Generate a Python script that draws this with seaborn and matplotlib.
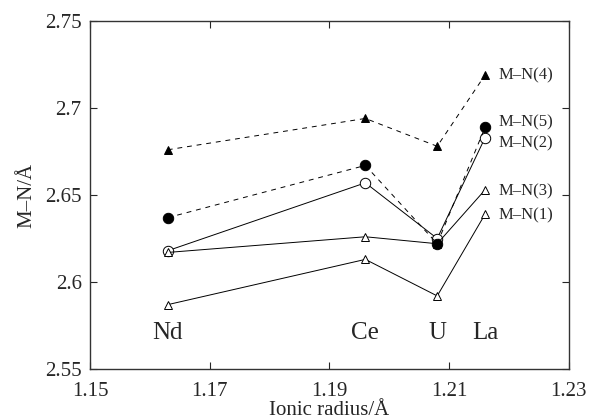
import numpy as np
import pandas as pd
import seaborn as sns
import matplotlib
matplotlib.use("Agg")
import matplotlib.pyplot as plt

# ionic radius of each metal and the bond lengths
elements = ["Nd", "Ce", "U", "La"]
radius = [1.163, 1.196, 1.208, 1.216]

mn1 = [2.587, 2.613, 2.592, 2.639]
mn2 = [2.618, 2.657, 2.625, 2.683]
mn3 = [2.617, 2.626, 2.622, 2.653]
mn4 = [2.676, 2.694, 2.678, 2.719]
mn5 = [2.637, 2.667, 2.622, 2.689]

series_names = ["M–N(1)", "M–N(2)", "M–N(3)", "M–N(4)", "M–N(5)"]
series_vals = [mn1, mn2, mn3, mn4, mn5]
label_y = [2.638, 2.6795, 2.652, 2.719, 2.6915]   # where the right-hand labels sit

sns.set_style("ticks")
plt.rcParams["font.family"] = ["Liberation Serif", "DejaVu Serif"]
plt.rcParams["mathtext.fontset"] = "stix"

fig = plt.figure(figsize=(5.92, 4.2), dpi=100)
ax = fig.add_axes([0.152, 0.1214, 0.809, 0.8286])

# marker style for each series: open triangle, open circle, filled triangle, filled circle
looks = {
    "M–N(1)": dict(marker="^", mfc="white", ms=6, ls="-"),
    "M–N(2)": dict(marker="o", mfc="white", ms=7.5, ls="-"),
    "M–N(3)": dict(marker="^", mfc="white", ms=6, ls="-"),
    "M–N(4)": dict(marker="^", mfc="black", ms=6, ls=(0, (5, 5))),
    "M–N(5)": dict(marker="o", mfc="black", ms=7.5, ls=(0, (5, 5))),
}

for name, vals in zip(series_names, series_vals):
    st = looks[name]
    sns.lineplot(x=radius, y=vals, ax=ax, color="black", lw=0.7,
                 marker=st["marker"], markerfacecolor=st["mfc"],
                 markeredgecolor="black", markeredgewidth=0.7,
                 markersize=st["ms"], linestyle=st["ls"], zorder=3)

# series labels to the right of La
for name, yv in zip(series_names, label_y):
    ax.annotate(name, xy=(radius[-1], yv), xytext=(10, 0),
                textcoords="offset points", va="center", ha="left", fontsize=12)

# element names under the points
for el, r in zip(elements, radius):
    ax.text(r, 2.5705, el, ha="center", va="center", fontsize=18)

ax.set_xlim(1.15, 1.23)
ax.set_ylim(2.55, 2.75)
ax.set_xticks([1.15, 1.17, 1.19, 1.21, 1.23])
ax.set_xticklabels(["1.15", "1.17", "1.19", "1.21", "1.23"])
ax.set_yticks([2.55, 2.6, 2.65, 2.7, 2.75])
ax.set_yticklabels(["2.55", "2.6", "2.65", "2.7", "2.75"])
ax.tick_params(direction="in", top=True, right=True, length=5, width=0.8,
               labelsize=15)
ax.tick_params(axis="x", pad=9)
ax.tick_params(axis="y", pad=6)
for sp in ax.spines.values():
    sp.set_linewidth(1.0)
    sp.set_color("#333333")

ax.set_xlabel("Ionic radius/Å", fontsize=15, labelpad=0)
ax.set_ylabel("M–N/Å", fontsize=15, labelpad=6)

fig.savefig("out.png", dpi=100)
